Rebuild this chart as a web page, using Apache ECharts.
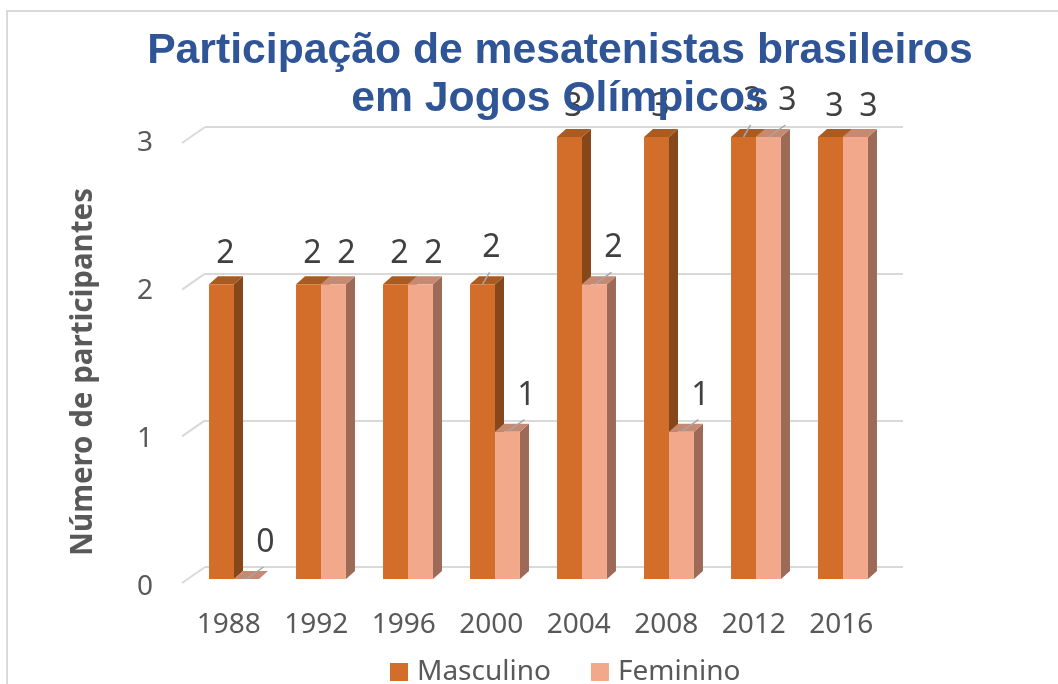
<!DOCTYPE html>
<html>
<head>
<meta charset="utf-8">
<script src="https://cdn.jsdelivr.net/npm/echarts@6.0.0/dist/echarts.min.js"></script>
<style>
html,body{margin:0;padding:0;background:#fff;}
#grafico{width:1058px;height:684px;}
</style>
</head>
<body>
<div id="grafico"></div>
<script>
// dados
var anos = ['1988', '1992', '1996', '2000', '2004', '2008', '2012', '2016'];
var masculino = [2, 2, 2, 2, 3, 3, 3, 3];
var feminino = [0, 2, 2, 1, 2, 1, 3, 3];
var ticksY = [0, 1, 2, 3];
// rótulos que têm linha de chamada no original (índices)
var chamadaMasc = [3, 6];
var chamadaFem = [0, 3, 4, 5, 6];

var prof = 9, alt = 8; // "profundidade" das barras 3D

function barra3d(corFrente, corLado, corTopo, lado, chamadas, desl, deslChamada) {
	return function (params, api) {
		var i = api.value(0), v = api.value(1);
		var base = api.coord([i, 0]);
		var topo = api.coord([i, v]);
		var w = api.size([1, 0])[0] * 0.287;
		var x0 = lado < 0 ? base[0] - w : base[0];
		var y0 = topo[1], y1 = base[1];
		var cx = x0 + w / 2;
		var filhos = [
			{ type: 'polygon', shape: { points: [[x0 + w, y0], [x0 + w + prof, y0 - alt], [x0 + w + prof, y1 - alt], [x0 + w, y1]] }, style: { fill: corLado } },
			{ type: 'polygon', shape: { points: [[x0, y0], [x0 + prof, y0 - alt], [x0 + w + prof, y0 - alt], [x0 + w, y0]] }, style: { fill: corTopo } },
			{ type: 'rect', shape: { x: x0, y: y0, width: w, height: y1 - y0 }, style: { fill: corFrente } }
		];
		var tx = cx + desl, ty = y0 - 30;
		if (chamadas.indexOf(i) >= 0) {
			tx = cx + deslChamada; ty = y0 - 36;
			filhos.push({ type: 'line', shape: { x1: cx, y1: y0, x2: tx - 2, y2: y0 - 12 }, style: { stroke: '#a6a6a6', lineWidth: 1.5 } });
		}
		filhos.push({ type: 'text', x: tx, y: ty, style: { text: String(v), fill: '#404040', font: '32px "Noto Sans"', align: 'center', verticalAlign: 'middle' } });
		return { type: 'group', children: filhos };
	};
}

var grafico = echarts.init(document.getElementById('grafico'));

var option = {
	backgroundColor: '#fff',
	animation: false,
	title: {
		text: 'Participação de mesatenistas brasileiros\nem Jogos Olímpicos',
		left: 555,
		top: 22,
		textAlign: 'center',
		z: 10,
		textStyle: { fontFamily: '"Liberation Sans", Arial', fontSize: 42.7, fontWeight: 'bold', color: '#2F5597', lineHeight: 48 }
	},
	graphic: [{
		type: 'rect', shape: { x: 7, y: 11, width: 1100, height: 700 },
		style: { fill: null, stroke: '#d9d9d9', lineWidth: 2 }, silent: true, z: -1
	}],
	legend: {
		data: ['Masculino', 'Feminino'],
		left: 385, top: 652,
		icon: 'rect', itemWidth: 18, itemHeight: 18, itemGap: 40,
		textStyle: { fontFamily: 'Noto Sans', fontSize: 28, color: '#595959', padding: [0, 0, 0, 4], lineHeight: 30 }
	},
	grid: [
		{ left: 205, right: 155, top: 127, bottom: 117 },     // parede do fundo
		{ left: 190.5, right: 171.5, top: 137, bottom: 105 }, // frente das barras
		{ left: 185, right: 173, top: 143, bottom: 97 }       // rótulos
	],
	xAxis: [
		{ gridIndex: 0, type: 'category', data: anos, show: false },
		{ gridIndex: 1, type: 'category', data: anos, show: false },
		{
			gridIndex: 2, type: 'category', data: anos,
			axisLine: { show: false }, axisTick: { show: false },
			axisLabel: { fontFamily: 'Noto Sans', fontSize: 28, color: '#595959', margin: 24 }
		}
	],
	yAxis: [
		{
			gridIndex: 0, type: 'value', min: 0, max: 3, interval: 1,
			axisLine: { show: false }, axisTick: { show: false }, axisLabel: { show: false },
			splitLine: { lineStyle: { color: '#d9d9d9', width: 2 } }
		},
		{ gridIndex: 1, type: 'value', min: 0, max: 3, interval: 1, show: false, splitLine: { show: false } },
		{
			gridIndex: 2, type: 'value', min: 0, max: 3, interval: 1,
			axisLine: { show: false }, axisTick: { show: false }, splitLine: { show: false },
			axisLabel: { fontFamily: 'Noto Sans', fontSize: 28, color: '#595959', margin: 32 },
			name: 'Número de participantes', nameLocation: 'middle', nameRotate: 90, nameGap: 86,
			nameTextStyle: { fontFamily: 'Noto Sans', fontSize: 29.5, fontWeight: 'bold', color: '#595959', padding: [0, 14, 0, 0] }
		}
	],
	series: [
		{
			// linhas diagonais da parede lateral
			type: 'custom', xAxisIndex: 0, yAxisIndex: 0, silent: true,
			data: ticksY.map(function (t) { return [0, t]; }),
			renderItem: function (params, api) {
				var y = api.coord([0, api.value(1)])[1];
				var x = params.coordSys.x;
				return { type: 'line', shape: { x1: x, y1: y, x2: x - 23, y2: y + 16 }, style: { stroke: '#d9d9d9', lineWidth: 2 } };
			}
		},
		{
			name: 'Masculino', type: 'custom', xAxisIndex: 1, yAxisIndex: 1,
			itemStyle: { color: '#D26E2A' },
			data: masculino.map(function (v, i) { return [i, v]; }),
			renderItem: barra3d('#D26E2A', '#86471A', '#A95B22', -1, chamadaMasc, 4, 9)
		},
		{
			name: 'Feminino', type: 'custom', xAxisIndex: 1, yAxisIndex: 1,
			itemStyle: { color: '#F2A98B' },
			data: feminino.map(function (v, i) { return [i, v]; }),
			renderItem: barra3d('#F2A98B', '#9C6A56', '#C68A72', 1, chamadaFem, 13, 19)
		}
	]
};

grafico.setOption(option);
</script>
</body>
</html>
